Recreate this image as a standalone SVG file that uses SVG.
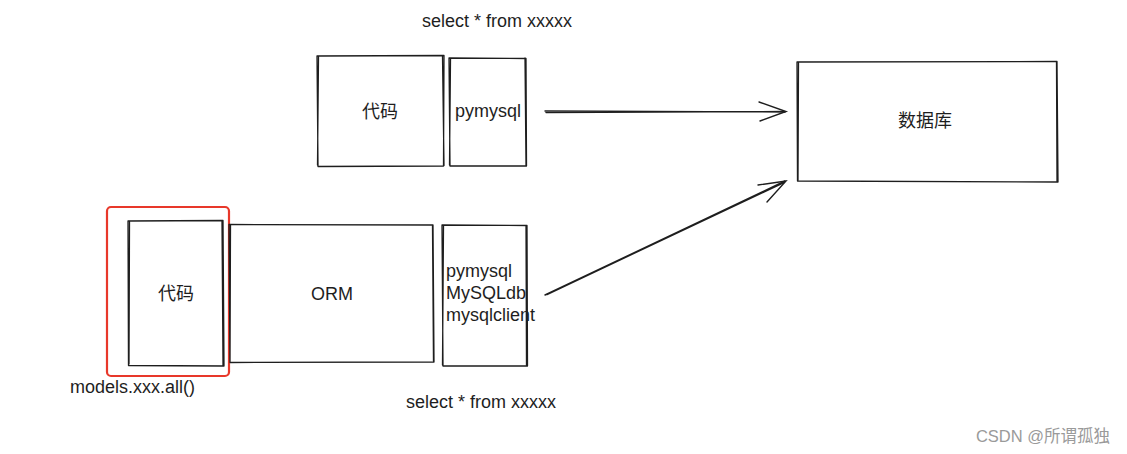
<svg xmlns="http://www.w3.org/2000/svg" width="1127" height="454" viewBox="0 0 1127 454">
<style>
.box{fill:none;stroke:#1e1e1e;stroke-width:1.3;stroke-linejoin:round;stroke-linecap:round}
.t{font-family:"Liberation Sans",Arial,sans-serif;font-size:18px;fill:#1e1e1e}
.c{font-family:"Liberation Sans","Noto Sans CJK SC",sans-serif;font-size:18px;fill:#1e1e1e}
.ln{fill:none;stroke:#1e1e1e;stroke-width:1.4;stroke-linecap:round}
</style>
<rect width="1127" height="454" fill="#ffffff"/>
<text class="t" x="497" y="27" text-anchor="middle">select * from xxxxx</text>
<g id="code-top">
<path class="box" d="M317,56 L444,55.5 L443.5,166 L318,166.5 Z M318.5,57 L317.5,165 M442.5,56.5 L444,165.5"/>
<text class="c" x="380" y="118" text-anchor="middle">代码</text>
</g>
<g id="pymysql-top">
<path class="box" d="M449,58 L526,58.5 L526.5,166 L450,166 Z M450.5,59 L449.5,165 M525,58 L526,165"/>
<text class="t" x="455" y="117">pymysql</text>
</g>
<g id="db">
<path class="box" d="M797,62 L1057,61.5 L1058,182 L797.5,181 Z M798.5,63 L798,180 M1056.5,62 L1057,181"/>
<text class="c" x="925" y="127" text-anchor="middle">数据库</text>
</g>
<g id="code-orm-highlight">
<rect x="107" y="207" width="122" height="169" rx="4" ry="4" fill="none" stroke="#e8382a" stroke-width="2.2"/>
</g>
<g id="code-bottom">
<path class="box" d="M128,221 L223,220.5 L224,366 L128.5,365.5 Z M129.5,222 L129,364 M222,221 L223,365"/>
<text class="c" x="176" y="300" text-anchor="middle">代码</text>
</g>
<g id="orm">
<path class="box" d="M229,224.5 L433,225 L434,362 L230,362.5 Z M230.5,225 L230,361 M432.5,226 L433.5,361"/>
<text class="t" x="332" y="300" text-anchor="middle">ORM</text>
</g>
<g id="drivers">
<path class="box" d="M442,225 L527,225.5 L527.5,366 L443,366 Z M443.5,226 L442.5,365 M526,226 L526.5,365"/>
<text class="t" x="446" y="277">pymysql</text>
<text class="t" x="446" y="299">MySQLdb</text>
<text class="t" x="446" y="321">mysqlclient</text>
</g>
<text class="t" x="70" y="393">models.xxx.all()</text>
<text class="t" x="481" y="408" text-anchor="middle">select * from xxxxx</text>
<g id="connectors">
<path class="ln" d="M545,111 L785,112 M546,112.5 L784,111.5"/>
<path class="ln" d="M759,102 L786,111.5 L760,121"/>
<path class="ln" d="M545,295 L785,181 M547,294.5 L784,182.5"/>
<path class="ln" d="M758,185 L786,181 L767,202"/>
</g>
<text x="1043" y="442" text-anchor="middle" font-family="'Liberation Sans','Noto Sans CJK SC',sans-serif" font-size="16.5" fill="#9a9a9a">CSDN @所谓孤独</text>
</svg>
